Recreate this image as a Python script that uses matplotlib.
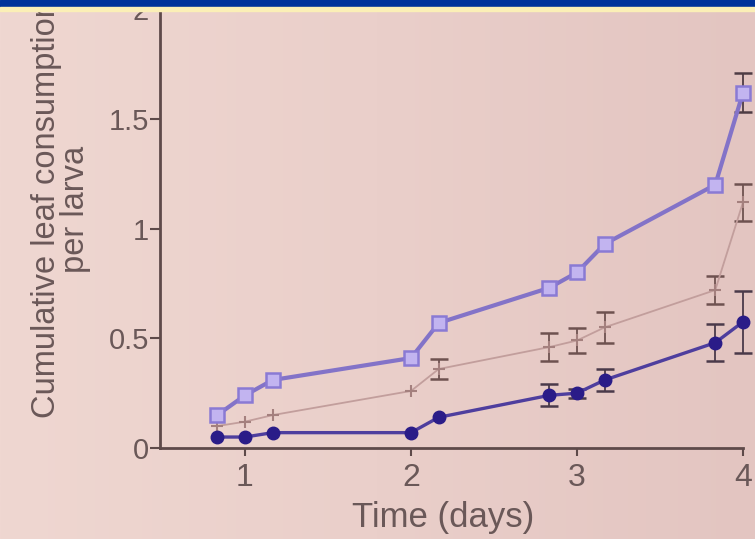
import numpy as np
import matplotlib
matplotlib.use("Agg")
import matplotlib.pyplot as plt
from matplotlib.patches import Rectangle

# Sampling times (days)
days = [0.833, 1.0, 1.167, 2.0, 2.167, 2.833, 3.0, 3.167, 3.833, 4.0]

# Three treatments, cumulative leaf consumption per larva
squares = [0.15, 0.24, 0.31, 0.41, 0.57, 0.73, 0.80, 0.93, 1.20, 1.62]
squares_err = [0, 0, 0, 0, 0, 0, 0, 0, 0, 0.09]

plus = [0.10, 0.12, 0.15, 0.26, 0.36, 0.46, 0.49, 0.55, 0.72, 1.12]
plus_err = [0, 0, 0, 0, 0.045, 0.065, 0.057, 0.07, 0.065, 0.085]

circles = [0.05, 0.05, 0.07, 0.07, 0.14, 0.24, 0.25, 0.31, 0.48, 0.575]
circles_err = [0, 0, 0, 0, 0, 0.05, 0.02, 0.05, 0.085, 0.14]

xticks = [1, 2, 3, 4]
yticks = [0, 0.5, 1, 1.5, 2]
ytick_labels = ["0", "0.5", "1", "1.5", "2"]

plt.rcParams["font.family"] = ["Liberation Sans", "DejaVu Sans"]

fig = plt.figure(figsize=(7.55, 5.39), dpi=100)

# pink slide background with a slight left-right shading
bg = fig.add_axes([0, 0, 1, 1], zorder=-5)
grad = np.linspace(0, 1, 256).reshape(1, -1)
cmap = matplotlib.colors.LinearSegmentedColormap.from_list(
    "bg", ["#efd7d1", "#eacfca", "#e3c5c1"])
bg.imshow(grad, aspect="auto", cmap=cmap, extent=[0, 1, 0, 1])
bg.set_axis_off()

ax = fig.add_axes([160 / 755, 91 / 539, 595 / 755, 448 / 539])
ax.patch.set_alpha(0)

axis_col = "#5e4a4a"
label_col = "#6a5858"


def draw_errors(y, err, color):
    x = np.array(days)
    y = np.array(y)
    e = np.array(err)
    m = e > 0
    ax.errorbar(x[m], y[m], yerr=e[m], fmt="none", ecolor=color,
                elinewidth=1.3, capsize=6.5, capthick=1.8, zorder=2)


draw_errors(plus, plus_err, "#6e5250")
draw_errors(circles, circles_err, "#4a3a4a")
draw_errors(squares, squares_err, "#4e3c44")

ax.plot(days, plus, color="#c29e9c", lw=1.3, marker="+", ms=8, mew=1.5,
        mec="#a4807e", zorder=3)
ax.plot(days, circles, color="#4e3e9e", lw=2.4, marker="o", ms=9,
        mfc="#2a1c88", mec="#2a1c88", zorder=4)
ax.plot(days, squares, color="#8373c8", lw=3, marker="s", ms=10,
        mfc="#c2b4f0", mec="#8a7ad4", mew=1.8, zorder=5)

ax.set_xlim(1 - 85 / 166, 4 + 12 / 166)
ax.set_ylim(0, 448 / 219.4)

for s in ["top", "right"]:
    ax.spines[s].set_visible(False)
for s in ["left", "bottom"]:
    ax.spines[s].set_color(axis_col)
    ax.spines[s].set_linewidth(2)
ax.spines["bottom"].set_bounds(1 - 85 / 166, 4)

ax.set_xticks(xticks)
ax.set_xticklabels([str(t) for t in xticks])
ax.set_yticks(yticks)
ax.set_yticklabels(ytick_labels)
ax.tick_params(axis="x", direction="out", length=6, width=1.5,
               color=axis_col, labelsize=23, labelcolor=label_col, pad=5)
ax.tick_params(axis="y", direction="out", length=7, width=1.5,
               color=axis_col, labelsize=21, labelcolor=label_col, pad=1)

fig.text(443 / 755, 1 - 518 / 539, "Time (days)", ha="center", va="center",
         fontsize=25, color=label_col)
fig.text(61 / 755, 1 - 209 / 539, "Cumulative leaf consumption\nper larva",
         ha="center", va="center", rotation=90, multialignment="center",
         fontsize=23.5, color=label_col, linespacing=0.95)

# slide header strip
fig.patches.append(Rectangle((0, 1 - 7 / 539), 1, 7 / 539,
                             transform=fig.transFigure, color="#00339a",
                             zorder=10))
fig.patches.append(Rectangle((0, 1 - 11 / 539), 1, 4 / 539,
                             transform=fig.transFigure, color="#fbefb6",
                             zorder=10))

fig.savefig("out.png", dpi=100)
